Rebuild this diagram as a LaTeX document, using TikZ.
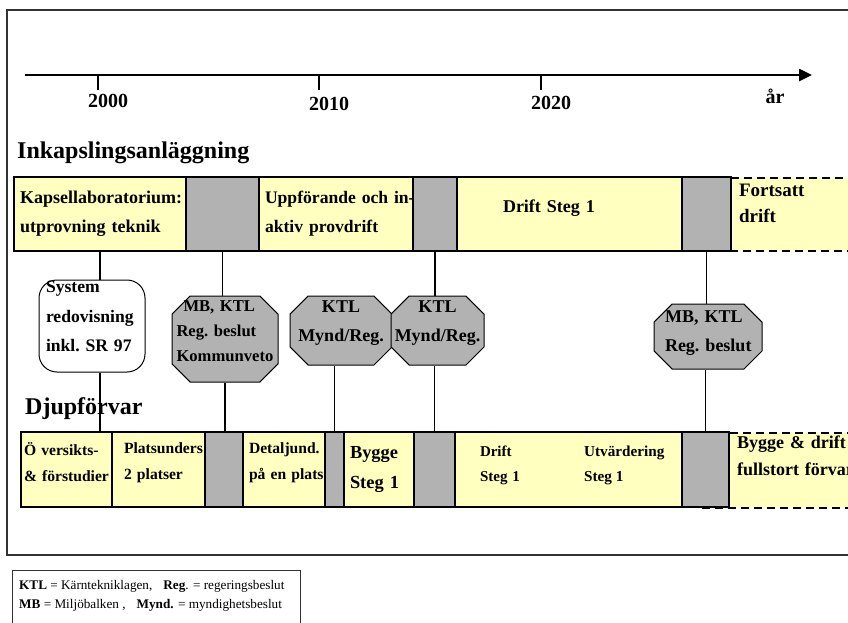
\documentclass[tikz,border=0pt]{standalone}
\usepackage{fontspec}
\setmainfont{Liberation Serif}
\usetikzlibrary{positioning, shapes.misc, arrows.meta}
\definecolor{phaseyellow}{RGB}{255,255,192}
\definecolor{gategray}{RGB}{178,178,178}
\hyphenpenalty=10000
\exhyphenpenalty=10000
\newcommand{\phasefont}{\bfseries\fontsize{18}{29}\selectfont}
\newcommand{\lowfont}{\bfseries\fontsize{15.6}{26}\selectfont}
\tikzstyle{phase} = [rectangle, draw=black, line width=1.2pt, fill=phaseyellow, anchor=north west, outer sep=0pt, inner xsep=6pt, inner ysep=0pt, minimum height=74pt, align=left, font=\phasefont]
\tikzstyle{later} = [rectangle, fill=phaseyellow, anchor=north west, outer sep=0pt, inner xsep=6pt, inner ysep=0pt, align=left]
\tikzstyle{gate} = [rectangle, draw=black, line width=1.2pt, fill=gategray, anchor=north west, outer sep=0pt, inner sep=0pt, minimum height=74pt]
\tikzstyle{lowbar} = [minimum height=75pt, font=\lowfont]
\tikzstyle{decision} = [chamfered rectangle, chamfered rectangle xsep=15pt, draw=black, line width=1pt, fill=gategray, inner ysep=0pt, font=\bfseries\fontsize{18}{29}\selectfont]
\tikzstyle{report} = [rectangle, rounded corners=18pt, draw=black, line width=1pt, fill=white, inner xsep=7pt, inner ysep=0pt, align=left, font=\bfseries\fontsize{17.6}{29.5}\selectfont]
\tikzstyle{link} = [line width=1.2pt]
\tikzstyle{dashline} = [line width=2pt, dash pattern=on 8pt off 5pt]
\tikzstyle{rowtitle} = [anchor=west, inner sep=0pt, font=\bfseries\fontsize{24}{28}\selectfont]
\tikzstyle{yearlabel} = [inner sep=0pt, font=\bfseries\fontsize{20}{24}\selectfont]

\begin{document}
\begin{tikzpicture}[x=1pt, y=-1pt]
\useasboundingbox (0,0) rectangle (848,622);
% Frame
\draw[line width=1.4pt, black!80] (860,10) -- (7,10) -- (7,555) -- (860,555);

% Time axis
\coordinate (axisstart) at (25,75);
\coordinate (axisend) at (812,75);
\draw[line width=2.5pt, -{Triangle[length=13pt,width=12pt]}] (axisstart) -- (axisend);
\foreach \xpos/\yr/\ypos in {98/2000/101, 319/2010/104, 541/2020/103}{
	\draw[line width=2pt] (\xpos,75) -- (\xpos,90);
	\node (year\yr) [yearlabel] at (\xpos+10,\ypos) {\yr};
}
\node (yearunit) [yearlabel] at (775,96) {år};

% Inkapslingsanläggning
\node (encap_title) [rowtitle] at (17,153) {Inkapslingsanläggning};
\node (kapsel) [phase, text width=160pt] at (14,177) {Kapsellaboratorium:\\utprovning~teknik};
\node (gateA) [gate, minimum width=73pt, right=0pt of kapsel] {};
\node (uppf) [phase, text width=142pt, font=\bfseries\fontsize{17.6}{29}\selectfont, right=0pt of gateA] {\mbox{Uppförande och in-}\\aktiv~provdrift};
\node (gateB) [gate, minimum width=44pt, right=0pt of uppf] {};
\node (drift1) [phase, inner xsep=46pt, text width=133pt, text depth=16pt, right=0pt of gateB] {Drift~Steg~1};
\node (gateC) [gate, minimum width=49pt, right=0pt of drift1] {};
\node (fortsatt) [later, text width=120pt, minimum height=73pt, text depth=48pt, font=\bfseries\fontsize{19}{26}\selectfont] at (733,178) {Fortsatt\\drift};
\draw[dashline] ([xshift=-2pt]fortsatt.north west) -- (fortsatt.north east);
\draw[dashline] ([xshift=-29pt]fortsatt.south west) -- (fortsatt.south east);

% Beslut
\node (sysred) [report, text width=92pt, minimum height=92pt, text depth=78pt] at (92,326) {System\\redovisning\\inkl.~SR~97};
\node (mb1) [decision, align=left, text width=97pt, inner xsep=-10.5pt, minimum height=86pt, text depth=65pt, font=\bfseries\fontsize{16.6}{25}\selectfont] at (225,339) {\hspace*{7pt}MB,~KTL\\Reg.~beslut\\Kommunveto};
\node (ktl1) [decision, align=center, text width=90pt, inner xsep=-9pt, minimum height=69pt, text depth=47pt] at (341,330.5) {KTL\\Mynd/Reg.};
\node (ktl2) [decision, align=center, text width=88pt, inner xsep=-12.5pt, minimum height=69pt, text depth=47pt, right=-2pt of ktl1] {KTL\\Mynd/Reg.};
\node (mb2) [decision, align=left, text width=86pt, inner xsep=-4pt, minimum height=65pt, text depth=39pt] at (708,336.5) {MB,~KTL\\Reg.~beslut};

% Djupförvar
\node (deep_title) [rowtitle] at (25,409) {Djupförvar};
\node (oversikt) [phase, lowbar, inner xsep=3pt, text width=85pt, text depth=42pt] at (21,432) {Ö~versikts-\\\&~förstudier};
\node (platsund) [phase, lowbar, inner xsep=12pt, text width=69pt, text depth=42pt, right=0pt of oversikt] {Platsunders\\2~platser};
\node (gateD) [gate, lowbar, minimum width=38pt, right=0pt of platsund] {};
\node (detalj) [phase, lowbar, text width=70pt, text depth=42pt, right=0pt of gateD] {Detaljund.\\på~en~plats};
\node (gateE) [gate, lowbar, minimum width=19pt, right=0pt of detalj] {};
\node (bygge) [phase, lowbar, text width=58pt, font=\bfseries\fontsize{18.4}{30}\selectfont, right=0pt of gateE] {Bygge\\Steg~1};
\node (gateF) [gate, lowbar, minimum width=41pt, right=0pt of bygge] {};
\node (drift2) [phase, lowbar, inner xsep=25pt, text width=177pt, text depth=36pt, font=\bfseries\fontsize{15}{25}\selectfont, right=0pt of gateF] {Drift\\Steg~1};
\node (utv) [anchor=west, inner sep=0pt, align=left, font=\bfseries\fontsize{15.2}{25}\selectfont] at ([xshift=129pt, yshift=4pt]drift2.west) {Utvärdering\\Steg~1};
\node (gateG) [gate, lowbar, minimum width=47pt, right=0pt of drift2] {};
\node (fullstort) [later, text width=120pt, inner xsep=7pt, minimum height=75pt, text depth=57pt, font=\bfseries\fontsize{18}{27}\selectfont] at (730,433) {Bygge~\&~drift\\fullstort~förvar};
\draw[dashline] (fullstort.north west) -- (fullstort.north east);
\draw[dashline] ([xshift=-28pt]fullstort.south west) -- (fullstort.south east);

% Links
\draw[link] (kapsel.south) -- (kapsel.south |- sysred.north);
\draw[link] (sysred.south -| kapsel.south) -- (kapsel.south |- oversikt.north);
\draw[link] (gateA.south) -- (gateA.south |- mb1.north);
\draw[link] (mb1.south) -- (mb1.south |- gateD.north);
\draw[link] (gateE.north) -- (gateE.north |- ktl1.south);
\draw[link] (gateB.south) -- (gateB.south |- ktl2.north);
\draw[link] (gateF.north) -- (gateF.north |- ktl2.south);
\draw[link] (gateC.south) -- (gateC.south |- mb2.north);
\draw[link] (gateG.north) -- (gateG.north |- mb2.south);

% Legend
\draw[line width=1pt, black!80] (300,640) -- (300,570) -- (12,570) -- (12,640);
\node (legend) [anchor=north west, inner sep=0pt, align=left, font=\fontsize{13.2}{19}\selectfont] at (19,580) {\textbf{KTL} = Kärntekniklagen,\hspace{11pt}\textbf{Reg}. = regeringsbeslut\\\textbf{MB} = Miljöbalken ,\hspace{11pt}\textbf{Mynd.} = myndighetsbeslut};
\end{tikzpicture}
\end{document}
